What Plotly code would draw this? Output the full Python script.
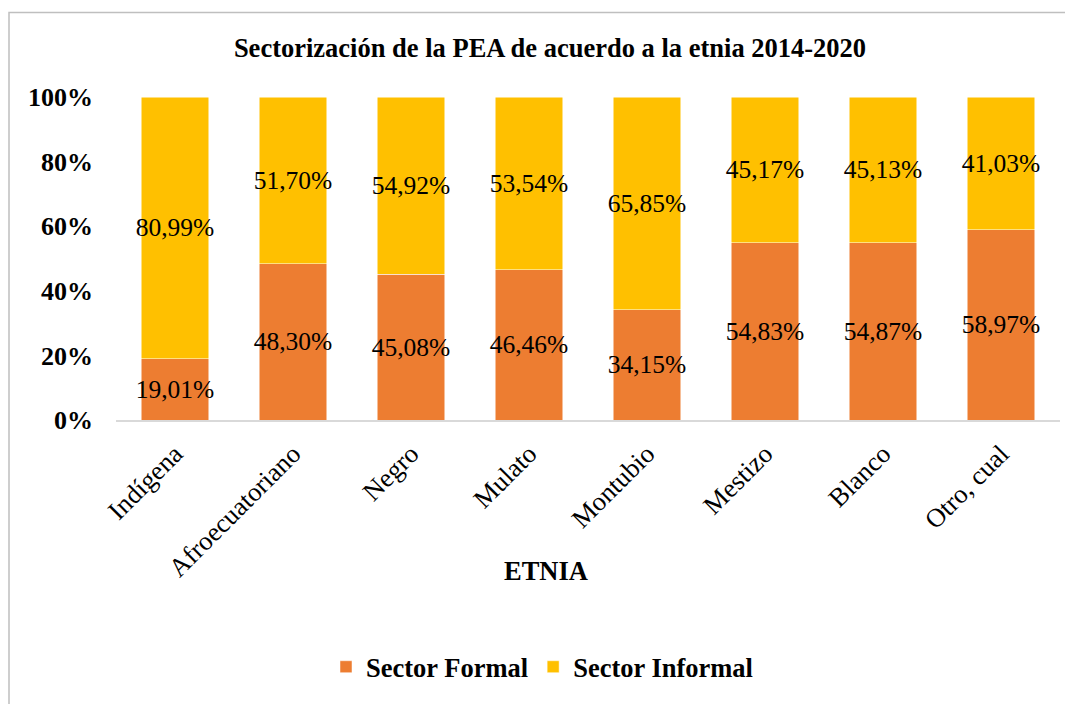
import plotly.graph_objects as go

categories = ["Indígena", "Afroecuatoriano", "Negro", "Mulato", "Montubio", "Mestizo", "Blanco", "Otro, cual"]
formal = [19.01, 48.30, 45.08, 46.46, 34.15, 54.83, 54.87, 58.97]
informal = [80.99, 51.70, 54.92, 53.54, 65.85, 45.17, 45.13, 41.03]
y_ticks = [0, 20, 40, 60, 80, 100]

def fmt(v):
    return f"{v:.2f}".replace(".", ",") + "%"

SERIF = "Times New Roman, Liberation Serif, serif"
OFF = 8  # page body margin
W, H = 1073, 704
# plot area in screen pixels
SL, SR, ST, SB = 116, 1060, 97, 420
L = SL - OFF
T = ST - OFF
R = W - (SR - OFF)
B = H - (SB - OFF)
pw = SR - SL
ph = SB - ST

def px_x(x):
    return (x - SL) / pw

def px_y(y):
    return (SB - y) / ph

fig = go.Figure()
fig.add_trace(go.Bar(
    x=categories, y=formal, name="Sector Formal",
    marker=dict(color="#ED7D31", line=dict(color="#FFFFFF", width=0.5)),
    text=[fmt(v) for v in formal], textposition="inside", insidetextanchor="middle",
    constraintext="none", textangle=0,
    textfont=dict(family=SERIF, size=25.5, color="#000000"),
    hoverinfo="skip",
))
fig.add_trace(go.Bar(
    x=categories, y=informal, name="Sector Informal",
    marker=dict(color="#FFC000", line=dict(color="#FFFFFF", width=0.5)),
    text=[fmt(v) for v in informal], textposition="inside", insidetextanchor="middle",
    constraintext="none", textangle=0,
    textfont=dict(family=SERIF, size=25.5, color="#000000"),
    hoverinfo="skip",
))

fig.update_layout(
    width=W, height=H,
    barmode="stack", bargap=0.424,
    plot_bgcolor="white", paper_bgcolor="white",
    margin=dict(l=L, r=R, t=T, b=B, autoexpand=False),
    font=dict(family=SERIF, color="#000000"),
    title=dict(text="<b>Sectorización de la PEA de acuerdo a la etnia 2014-2020</b>",
               x=(550 - OFF) / W, xanchor="center", y=1 - (48 - OFF) / H, yanchor="middle",
               font=dict(family=SERIF, size=26.5, color="#000000")),
    showlegend=True,
    legend=dict(orientation="h", x=px_x(542), xanchor="center", y=px_y(667), yanchor="middle",
                font=dict(family=SERIF, size=26.5, color="#000000", weight="bold"),
                itemwidth=30, traceorder="normal"),
    uniformtext=dict(mode="show", minsize=25),
)
fig.update_yaxes(range=[0, 100], tickvals=y_ticks, ticktext=[f"{v}%" for v in y_ticks],
                 showgrid=False, zeroline=False, showline=False,
                 tickfont=dict(family=SERIF, size=26, color="#000000", weight="bold"),
                 ticklabelstandoff=22)
fig.update_xaxes(tickangle=-45, showgrid=False, showline=True, linecolor="#D9D9D9", linewidth=1.5,
                 tickfont=dict(family=SERIF, size=26.5, color="#000000"),
                 ticklabelstandoff=6)

fig.add_annotation(text="<b>ETNIA</b>", xref="paper", yref="paper", x=px_x(546), y=px_y(588),
                   showarrow=False, font=dict(family=SERIF, size=26.5, color="#000000"))

fig.add_shape(type="rect", xref="paper", yref="paper",
              x0=px_x(9), x1=px_x(1090), y0=px_y(720), y1=px_y(12.5),
              line=dict(color="#BFBFBF", width=1.5), fillcolor="rgba(0,0,0,0)", layer="below")

fig.write_html("out.html")
